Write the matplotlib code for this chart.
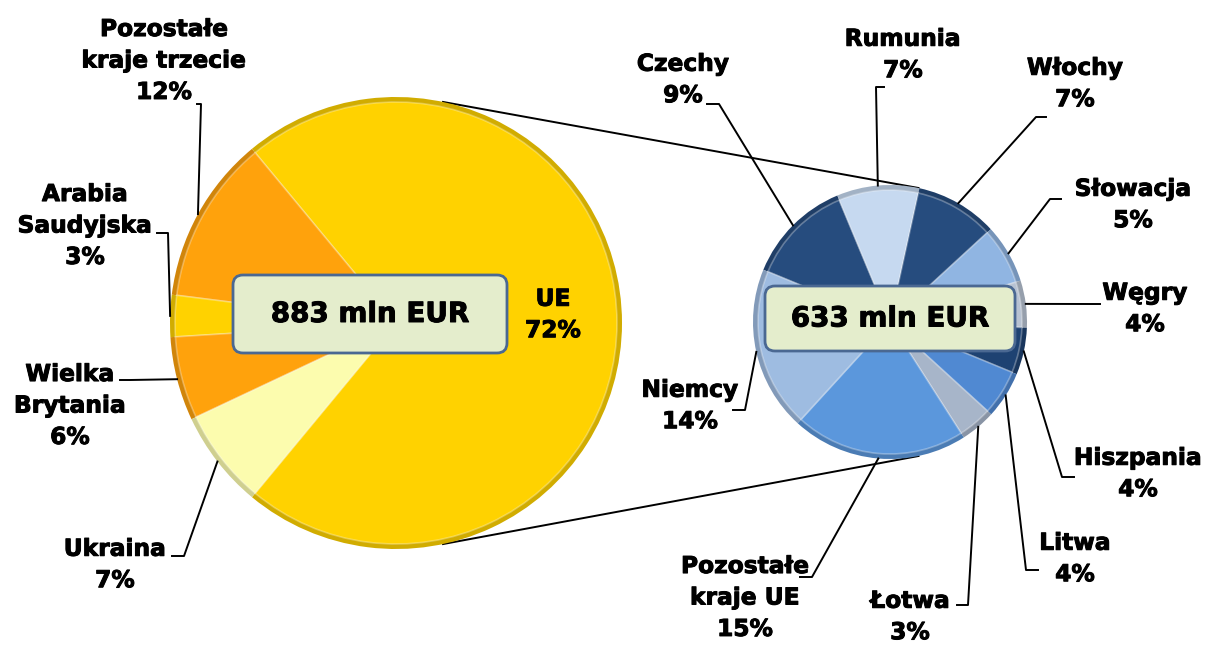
import numpy as np
import matplotlib.pyplot as plt
import matplotlib.colors as mcolors
import matplotlib.patheffects as pe
from matplotlib.patches import FancyBboxPatch

plt.rcParams['font.family'] = ['DejaVu Sans']

# ---------------- dane ----------------
left_labels = ['UE', 'Pozostałe\nkraje trzecie', 'Arabia\nSaudyjska', 'Wielka\nBrytania', 'Ukraina']
left_values = [72, 12, 3, 6, 7]
left_colors = ['#FFD200', '#FFA20C', '#FFD200', '#FFA20C', '#FCFCAE']

right_labels = ['Czechy', 'Rumunia', 'Włochy', 'Słowacja', 'Węgry', 'Hiszpania',
                'Litwa', 'Łotwa', 'Pozostałe\nkraje UE', 'Niemcy']
right_values = [9, 7, 7, 5, 4, 4, 4, 3, 15, 14]
right_colors = ['#264C7E', '#C6D9F0', '#264C7E', '#90B5E2', '#B7C2D2', '#1E4272',
                '#5089D2', '#A7B5C9', '#5B97DC', '#9EBCE1']

totals = ['883 mln EUR', '633 mln EUR']

# ---------------- uklad (piksele od gory) ----------------
W, H = 1207, 646
# tekst x, tekst y, kolano x, kolano y, koniec kreski x
left_pos = [(553, 315, None, None, None),
            (164, 61, 201, 104, 197),
            (85, 226, 168, 233, 157),
            (70, 406, 130, 380, 120),
            (115, 565, 184, 556, 172)]
right_pos = [(683, 80, 719, 104, 707),
             (903, 55, 876, 87, 884),
             (1075, 84, 1036, 117, 1046),
             (1133, 205, 1050, 199, 1061),
             (1145, 309, 1090, 304, 1100),
             (1138, 474, 1062, 477, 1074),
             (1075, 559, 1026, 570, 1038),
             (910, 617, 968, 605, 957),
             (745, 598, 812, 577, 800),
             (690, 406, 745, 410, 733)]

bold = [pe.withStroke(linewidth=0.7, foreground='black')]


def shade(c, f):
    r, g, b = mcolors.to_rgb(c)
    return (r * f, g * f, b * f)


fig = plt.figure(figsize=(W / 100, H / 100), dpi=100)
ax = fig.add_axes([0, 0, 1, 1])

lc, lr = (396, H - 323), 226
rc, rr = (890, H - 322), 137


def draw_pie(values, colors, center, radius, start, ccw):
    wedges, _ = ax.pie(values, colors=[shade(c, 0.82) for c in colors], startangle=start,
                       counterclock=ccw, center=center, radius=radius,
                       wedgeprops=dict(linewidth=0))
    for w in wedges:
        w.set_zorder(2)
    inner, _ = ax.pie(values, colors=colors, startangle=start, counterclock=ccw,
                      center=center, radius=radius - 5,
                      wedgeprops=dict(linewidth=1.2, edgecolor=(1, 1, 1, 0.3)))
    for w in inner:
        w.set_zorder(3)
    return wedges


lw = draw_pie(left_values, left_colors, lc, lr, -0.5 * left_values[0] / 100 * 360, True)
rw = draw_pie(right_values, right_colors, rc, rr, 157.6, False)

# linie laczace
for a in (78, -78):
    t = np.deg2rad(a)
    ax.plot([lc[0] + lr * np.cos(t), rc[0] + rr * np.cos(t)],
            [lc[1] + lr * np.sin(t), rc[1] + rr * np.sin(t)], color='black', lw=1.4, zorder=1)


def put_labels(wedges, names, values, pos, center, radius):
    for w, n, v, p in zip(wedges, names, values, pos):
        tx, ty, kx, ky, ex = p
        ax.text(tx, H - ty, f'{n}\n{v}%', ha='center', va='center', fontsize=16.8,
                fontweight='bold', linespacing=1.47, zorder=6, path_effects=bold)
        if kx is None:
            continue
        m = np.deg2rad((w.theta1 + w.theta2) / 2)
        px = center[0] + radius * np.cos(m)
        py = center[1] + radius * np.sin(m)
        ax.plot([px, kx, ex], [py, H - ky, H - ky], color='black', lw=1.4, zorder=4)


put_labels(lw, left_labels, left_values, left_pos, lc, lr)
put_labels(rw, right_labels, right_values, right_pos, rc, rr)

# ramki z suma
for (x0, y0, x1, y1), txt in zip([(233, 275, 507, 353), (765, 286, 1015, 351)], totals):
    box = FancyBboxPatch((x0, H - y1), x1 - x0, y1 - y0,
                         boxstyle='round,pad=0,rounding_size=10',
                         facecolor='#E4EDCC', edgecolor='#4A6892', lw=2, zorder=7)
    ax.add_patch(box)
    ax.text((x0 + x1) / 2, H - (y0 + y1) / 2, txt, ha='center', va='center',
            fontsize=20, fontweight='bold', zorder=8, path_effects=bold)

ax.set_xlim(0, W)
ax.set_ylim(0, H)
ax.set_aspect('equal')
ax.axis('off')
fig.savefig('out.png', dpi=100)
